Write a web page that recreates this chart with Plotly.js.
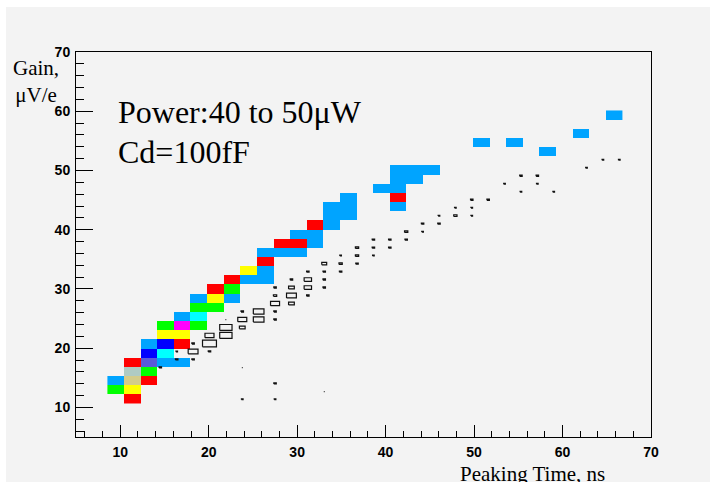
<!DOCTYPE html>
<html>
<head>
<meta charset="utf-8">
<script src="https://cdn.plot.ly/plotly-3.0.1.min.js"></script>
<style>
  html, body { margin:0; padding:0; background:#ffffff; }
  #chart { position:absolute; left:6px; top:7px; width:704px; height:475px; }
</style>
</head>
<body>
<div id="chart"></div>
<script>
// ---------- Colour-filled histogram (cells: column index, row index, palette level) ----------
const cellCol = [1, 0,1, 0,1,2, 1,2, 1,2,3,4, 2,3, 2,3,4, 3,4, 3,4,5, 4,5, 5,6, 5,6,7, 6,7, 7,8,9, 8,9, 9, 9,10,11, 10,11,12, 11,12, 12,13, 13,14, 13,14,17, 14,17, 16,17, 17,18, 17,18,19, 26, 22,24, 28, 30];
const cellRow = [0, 1,1, 2,2,2, 3,3, 4,4,4,4, 5,5, 6,6,6, 7,7, 8,8,8, 9,9, 10,10, 11,11,11, 12,12, 13,13,13, 14,14, 15, 16,16,16, 17,17,17, 18,18, 19,19, 20,20, 21,21,21, 22,22, 23,23, 24,24, 25,25,25, 27, 28,28, 29, 31];
const cellLevel = [2, 4,3, 1,10,2, 9,4, 2,8,1,1, 7,5, 1,7,2, 3,3, 4,6,4, 1,5, 4,4, 1,3,1, 2,4, 2,1,1, 3,1, 2, 1,1,1, 2,2,1, 1,1, 2,1, 1,1, 1,1,1, 1,2, 1,1, 1,1, 1,1,1, 1, 1,1, 1, 1];
// palette colours for levels 1..10
const paletteColors = ['#00a4ff','#ff0000','#ffff00','#00ff00','#00ffff','#ff00ff','#0000ff','#5a5ad8','#afcbc3','#d3cc8a'];
// binning of the coloured histogram (bin centres)
const colX0 = 9.49, colDX = 1.877, nCols = 31;
const rowY0 = 11.46, rowDY = 1.545, nRows = 32;

// ---------- Box-drawn histogram (column index, row index, content) ----------
const boxCol = [0, 1,1, 2,2,2, 3,3,3, 4,4,4, 5,5,5,5,5, 6,6, 7,7,7,7,7,7,7, 8,8,8,8, 9,9,9,9, 10,10,10,10,10, 11,11,11, 12,12,12, 13,13,13, 14,14, 15,15, 16,16, 17,17, 18,18, 19,19,19, 20, 21, 22,22, 23,23, 24, 26, 27, 28];
const boxRow = [4, 6,5, 6,7,5, 7,8,6, 9,8,10, 10,9,11,4,0, 11,10, 12,13,11,10,14,2,0, 13,12,14,15, 13,14,15,16, 1,14,15,16,17, 16,17,18, 19,18,17, 20,19,18, 20,19, 21,20, 22,21, 23,22, 23,24, 23,24,25, 25, 27, 26,28, 28,27, 26, 29, 30, 30];
const boxVal = [3, 2,3, 12,3,3, 17,11,3, 15,15,1, 11,7,3,1,2, 13,13, 11,4,3,3,3,3,2, 12,7,7,3, 3,9,9,3, 1,3,3,3,6, 3,4,2, 4,4,3, 3,3,2, 3,3, 4,3, 3,2, 2,3, 4,2, 2,2,3, 3, 2, 2,3, 3,2, 2, 2, 2, 2];
const boxMax = 20;
const boxX0 = 14.53, boxDX = 1.853;
const boxY0 = 11.36, boxDY = 1.348;

// ---------- Build heatmap grid ----------
const hx = [], hy = [];
for (let i = 0; i < nCols; i++) hx.push(colX0 + colDX * i);
for (let j = 0; j < nRows; j++) hy.push(rowY0 + rowDY * j);
const hz = [];
for (let j = 0; j < nRows; j++) { const r = []; for (let i = 0; i < nCols; i++) r.push(null); hz.push(r); }
for (let k = 0; k < cellCol.length; k++) hz[cellRow[k]][cellCol[k]] = cellLevel[k];

const nL = paletteColors.length;
const cs = [];
for (let k = 0; k < nL; k++) {
  cs.push([k / nL, paletteColors[k]]);
  cs.push([(k + 1) / nL, paletteColors[k]]);
}

// ---------- Build box outlines ----------
const bxs = [], bys = [];
for (let k = 0; k < boxCol.length; k++) {
  const cx = boxX0 + boxDX * boxCol[k];
  const cy = boxY0 + boxDY * boxRow[k];
  const f = boxVal[k] / boxMax;
  const hw = 0.5 * boxDX * f, hh = 0.5 * boxDY * f;
  bxs.push(cx - hw, cx + hw, cx + hw, cx - hw, cx - hw, null);
  bys.push(cy - hh, cy - hh, cy + hh, cy + hh, cy - hh, null);
}

const traces = [
  {
    type: 'heatmap', x: hx, y: hy, z: hz,
    colorscale: cs, zmin: 0.5, zmax: nL + 0.5, showscale: false,
    hoverinfo: 'skip'
  },
  {
    type: 'scatter', mode: 'lines', x: bxs, y: bys,
    line: { color: '#111111', width: 1.2 }, hoverinfo: 'skip', connectgaps: false
  }
];

const tickFont = { family: 'Liberation Sans, Arial, sans-serif', size: 14, color: '#000', weight: 'bold' };
const serif = 'Liberation Serif, Times New Roman, serif';

const layout = {
  width: 704, height: 475,
  paper_bgcolor: '#f3f3f3', plot_bgcolor: '#f3f3f3',
  margin: { l: 70, r: 59, t: 45, b: 45 },
  showlegend: false,
  xaxis: {
    range: [5, 70], tick0: 0, dtick: 10, ticks: 'inside', ticklen: 12, tickwidth: 1, tickcolor: '#000',
    minor: { dtick: 2, tick0: 0, ticks: 'inside', ticklen: 6, tickwidth: 1, tickcolor: '#000', showgrid: false },
    showline: true, linecolor: '#000', linewidth: 1, mirror: true,
    showgrid: false, zeroline: false, tickfont: tickFont, ticklabelstandoff: 2, fixedrange: true
  },
  yaxis: {
    range: [5, 70], tick0: 0, dtick: 10, ticks: 'inside', ticklen: 17, tickwidth: 1, tickcolor: '#000',
    minor: { dtick: 2, tick0: 0, ticks: 'inside', ticklen: 8, tickwidth: 1, tickcolor: '#000', showgrid: false },
    showline: true, linecolor: '#000', linewidth: 1, mirror: true,
    showgrid: false, zeroline: false, tickfont: tickFont, ticklabelstandoff: 2, fixedrange: true
  },
  annotations: [
    { text: 'Power:40 to 50μW', xref: 'paper', yref: 'paper', x: 0.07, y: 0.845, xanchor: 'left', yanchor: 'middle',
      showarrow: false, font: { family: serif, size: 32, color: '#000' } },
    { text: 'Cd=100fF', xref: 'paper', yref: 'paper', x: 0.07, y: 0.741, xanchor: 'left', yanchor: 'middle',
      showarrow: false, font: { family: serif, size: 32, color: '#000' } },
    { text: 'Gain,<br>μV/e', xref: 'paper', yref: 'paper', x: -0.0687, y: 0.923, xanchor: 'center', yanchor: 'middle',
      align: 'center', showarrow: false, font: { family: serif, size: 21, color: '#000' } },
    { text: 'Peaking Time, ns', xref: 'paper', yref: 'paper', x: 0.9235, y: -0.097, xanchor: 'right', yanchor: 'middle',
      showarrow: false, font: { family: serif, size: 21, color: '#000' } }
  ]
};

Plotly.newPlot('chart', traces, layout, { staticPlot: true, displayModeBar: false });
</script>
</body>
</html>
